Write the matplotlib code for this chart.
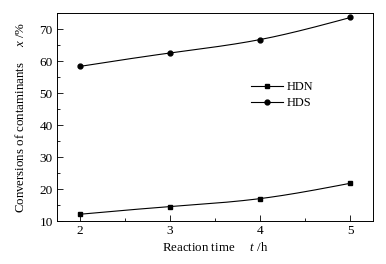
import numpy as np
import matplotlib
matplotlib.use("Agg")
import matplotlib.pyplot as plt
from matplotlib.ticker import MultipleLocator

plt.rcParams['font.family'] = ['Liberation Serif', 'DejaVu Serif']
plt.rcParams['mathtext.fontset'] = 'custom'
plt.rcParams['mathtext.rm'] = 'Liberation Serif'
plt.rcParams['mathtext.it'] = 'Liberation Serif:italic'

time_h = [2, 3, 4, 5]
hdn = [12.1, 14.5, 17.0, 21.8]
hds = [58.3, 62.5, 66.7, 73.6]
xticks = [2, 3, 4, 5]
yticks = [10, 20, 30, 40, 50, 60, 70]


def smooth(x, y, n=200):
    x = np.asarray(x, float); y = np.asarray(y, float)
    k = len(x); h = np.diff(x)
    A = np.zeros((k, k)); b = np.zeros(k)
    A[0, 0] = A[-1, -1] = 1
    for i in range(1, k - 1):
        A[i, i - 1] = h[i - 1]; A[i, i] = 2 * (h[i - 1] + h[i]); A[i, i + 1] = h[i]
        b[i] = 3 * ((y[i + 1] - y[i]) / h[i] - (y[i] - y[i - 1]) / h[i - 1])
    c = np.linalg.solve(A, b)
    xs = np.linspace(x[0], x[-1], n)
    idx = np.clip(np.searchsorted(x, xs) - 1, 0, k - 2)
    dx = xs - x[idx]
    bb = (y[idx + 1] - y[idx]) / h[idx] - h[idx] * (2 * c[idx] + c[idx + 1]) / 3
    d = (c[idx + 1] - c[idx]) / (3 * h[idx])
    ys = y[idx] + bb * dx + c[idx] * dx ** 2 + d * dx ** 3
    return xs, ys


fig = plt.figure(figsize=(3.86, 2.64), dpi=100)
ax = fig.add_axes([57 / 386, 1 - 221 / 264, (373 - 57) / 386, (221 - 13) / 264])

for xs_, ys_, m, lab in [(time_h, hdn, 's', 'HDN'), (time_h, hds, 'o', 'HDS')]:
    sx, sy = smooth(xs_, ys_)
    ax.plot(sx, sy, color='black', lw=0.8)
    ax.plot(xs_, ys_, linestyle='none', marker=m, color='black', markersize=3.5)
    ax.plot([], [], color='black', lw=0.8, marker=m, markersize=3.5, label=lab)

ax.set_xlim(1.75, 5.25)
ax.set_ylim(10, 75)
ax.set_xticks(xticks)
ax.set_yticks(yticks)
ax.xaxis.set_minor_locator(MultipleLocator(0.5))
ax.yaxis.set_minor_locator(MultipleLocator(5))
ax.tick_params(which='both', direction='in', top=False, right=False, labelsize=9.5, width=0.6)
ax.tick_params(which='major', length=4, pad=3)
ax.tick_params(which='minor', length=2.3)
for s in ax.spines.values():
    s.set_linewidth(0.7)

ax.set_xlabel(r'Reaction time     $t$ /h', fontsize=9.3, labelpad=3)
ax.set_ylabel(r'Conversions of contaminants     $x$ /%', fontsize=9.3, labelpad=9)

leg = ax.legend(loc='upper left', bbox_to_anchor=((245 - 57) / 316, 1 - (75 - 13) / 208),
                frameon=False, fontsize=8.8, handlelength=2.6, handletextpad=0.3,
                labelspacing=0.35, borderpad=0)

fig.savefig('out.png', dpi=100, facecolor='white')
